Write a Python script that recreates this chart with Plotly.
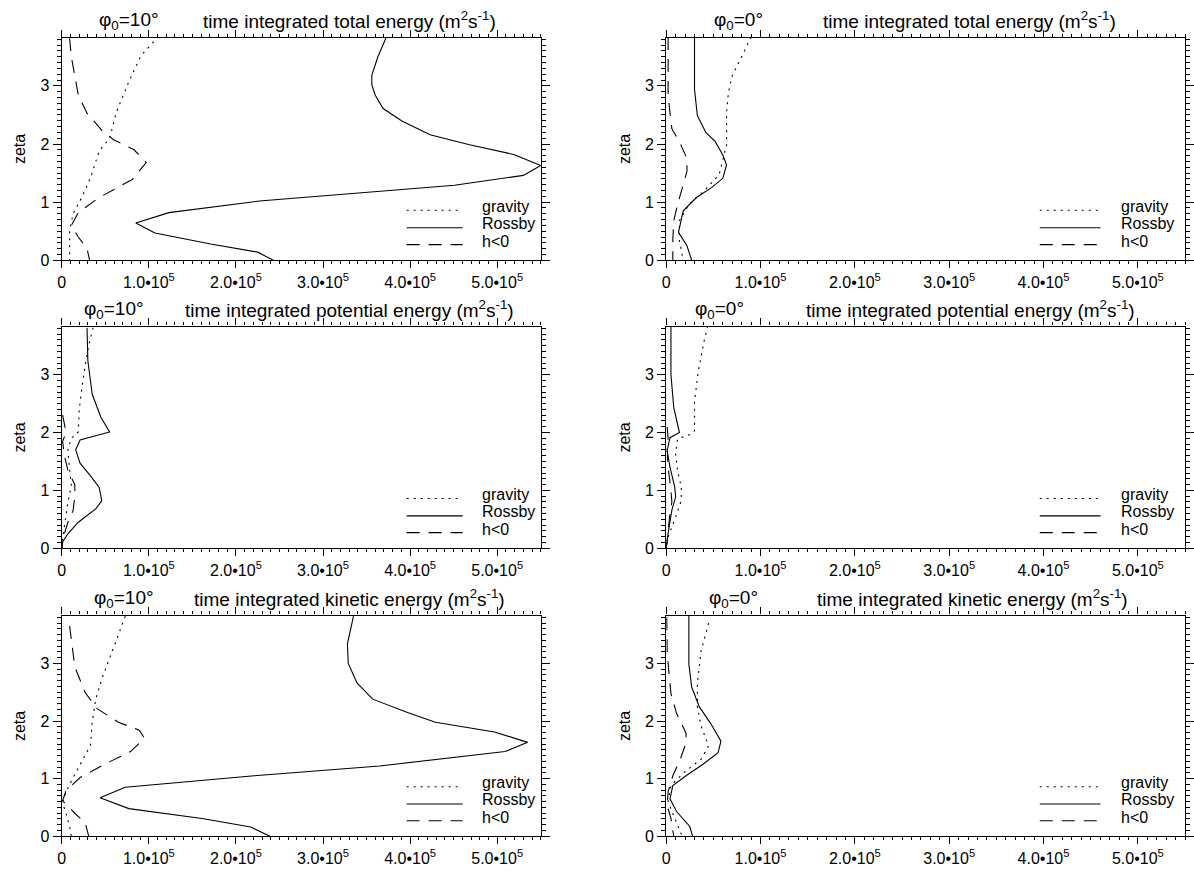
import numpy as np
import plotly.graph_objects as go

# ---------------- data (x values in units of 1e5 m^2 s^-1, zeta dimensionless) ----------------
# Top-left: total energy, phi0 = 10 deg
TL_ross_z = [3.85, 3.50, 3.18, 3.02, 2.84, 2.61, 2.39, 2.16, 1.99, 1.82, 1.63, 1.46, 1.29, 1.16, 1.02, 0.82, 0.64, 0.47, 0.28, 0.14, 0.0]
TL_ross_x = [3.73, 3.63, 3.56, 3.56, 3.60, 3.69, 3.91, 4.23, 4.67, 5.19, 5.50, 5.30, 4.51, 3.39, 2.27, 1.23, 0.85, 1.07, 1.71, 2.25, 2.43]
TL_grav_z = [3.85, 3.52, 3.07, 2.56, 2.10, 1.88, 1.42, 1.08, 0.80, 0.51, 0.0]
TL_grav_x = [1.11, 0.91, 0.77, 0.63, 0.55, 0.43, 0.33, 0.23, 0.13, 0.09, 0.09]
TL_hneg_z = [3.82, 3.50, 2.84, 2.53, 2.22, 2.07, 1.90, 1.68, 1.39, 1.08, 0.82, 0.60, 0.40, 0.20, 0.0]
TL_hneg_x = [0.09, 0.11, 0.19, 0.29, 0.47, 0.60, 0.83, 0.97, 0.81, 0.43, 0.19, 0.11, 0.19, 0.29, 0.32]

# Top-right: total energy, phi0 = 0 deg
TR_ross_z = [3.84, 2.94, 2.49, 2.20, 2.04, 1.81, 1.64, 1.41, 1.25, 1.08, 0.85, 0.48, 0.25, 0.0]
TR_ross_x = [0.30, 0.30, 0.33, 0.42, 0.52, 0.60, 0.64, 0.60, 0.48, 0.32, 0.18, 0.13, 0.22, 0.27]
TR_grav_z = [3.84, 3.51, 3.17, 2.89, 2.55, 1.98, 1.70, 1.47, 1.19, 0.96, 0.68, 0.34, 0.0]
TR_grav_x = [0.90, 0.80, 0.70, 0.66, 0.64, 0.64, 0.60, 0.56, 0.40, 0.24, 0.14, 0.14, 0.18]
TR_hneg_z = [3.84, 2.83, 2.26, 2.04, 1.75, 1.53, 1.30, 0.96, 0.68, 0.34, 0.0]
TR_hneg_x = [0.02, 0.02, 0.06, 0.14, 0.22, 0.22, 0.18, 0.12, 0.08, 0.07, 0.07]

# Middle-left: potential energy, phi0 = 10 deg
ML_ross_z = [3.81, 3.23, 2.66, 2.26, 2.01, 1.87, 1.70, 1.47, 1.25, 1.05, 0.82, 0.68, 0.45, 0.25, 0.11, 0.0]
ML_ross_x = [0.29, 0.30, 0.35, 0.45, 0.55, 0.21, 0.16, 0.21, 0.33, 0.43, 0.46, 0.39, 0.19, 0.07, 0.01, 0.0]
ML_grav_z = [3.81, 3.51, 3.17, 2.77, 2.38, 2.01, 1.90, 1.70, 1.36, 1.08, 0.79, 0.51, 0.17, 0.0]
ML_grav_x = [0.36, 0.31, 0.27, 0.23, 0.20, 0.19, 0.11, 0.07, 0.09, 0.11, 0.07, 0.04, 0.01, 0.0]
ML_hneg_z = [2.30, 2.00, 1.85, 1.60, 1.35, 1.10, 0.90, 0.65, 0.45, 0.20, 0.0]
ML_hneg_x = [0.01, 0.05, 0.01, 0.03, 0.07, 0.15, 0.15, 0.13, 0.07, 0.02, 0.0]

# Middle-right: potential energy, phi0 = 0 deg
MR_ross_z = [3.84, 3.00, 2.43, 2.00, 1.91, 1.69, 1.40, 1.06, 0.89, 0.66, 0.26, 0.0]
MR_ross_x = [0.05, 0.05, 0.08, 0.14, 0.04, 0.01, 0.04, 0.09, 0.10, 0.06, 0.02, 0.0]
MR_grav_z = [3.84, 3.57, 3.06, 2.54, 2.03, 1.97, 1.89, 1.63, 1.34, 1.06, 0.83, 0.54, 0.20, 0.0]
MR_grav_x = [0.44, 0.40, 0.34, 0.30, 0.30, 0.26, 0.12, 0.10, 0.12, 0.16, 0.16, 0.10, 0.02, 0.0]
MR_hneg_z = [2.10, 1.90, 1.70, 1.40, 1.00, 0.80, 0.60, 0.30, 0.0]
MR_hneg_x = [0.01, 0.02, 0.01, 0.02, 0.05, 0.06, 0.04, 0.02, 0.0]

# Bottom-left: kinetic energy, phi0 = 10 deg
BL_ross_z = [3.82, 3.34, 3.00, 2.66, 2.38, 2.15, 1.98, 1.81, 1.63, 1.47, 1.22, 1.05, 0.85, 0.67, 0.48, 0.31, 0.16, 0.0]
BL_ross_x = [3.35, 3.28, 3.29, 3.39, 3.57, 3.97, 4.29, 4.97, 5.35, 5.09, 3.65, 2.21, 0.73, 0.44, 0.77, 1.61, 2.17, 2.39]
BL_grav_z = [3.82, 3.17, 2.77, 2.38, 1.98, 1.58, 1.25, 0.96, 0.74, 0.57, 0.40, 0.17, 0.0]
BL_grav_x = [0.73, 0.57, 0.47, 0.39, 0.35, 0.33, 0.21, 0.11, 0.04, 0.01, 0.05, 0.09, 0.11]
BL_hneg_z = [3.65, 2.94, 2.49, 2.21, 1.98, 1.84, 1.70, 1.47, 1.25, 1.02, 0.79, 0.62, 0.40, 0.23, 0.0]
BL_hneg_x = [0.09, 0.15, 0.27, 0.41, 0.65, 0.89, 0.95, 0.79, 0.49, 0.21, 0.05, 0.01, 0.15, 0.27, 0.31]

# Bottom-right: kinetic energy, phi0 = 0 deg
BR_ross_z = [3.83, 2.99, 2.59, 2.25, 1.96, 1.65, 1.45, 1.25, 1.05, 0.88, 0.65, 0.43, 0.17, 0.0]
BR_ross_x = [0.24, 0.24, 0.27, 0.35, 0.47, 0.58, 0.55, 0.39, 0.21, 0.07, 0.04, 0.11, 0.25, 0.28]
BR_grav_z = [3.70, 3.22, 2.65, 2.25, 1.91, 1.57, 1.34, 1.11, 0.88, 0.60, 0.31, 0.0]
BR_grav_x = [0.45, 0.37, 0.33, 0.33, 0.37, 0.45, 0.37, 0.19, 0.05, 0.02, 0.09, 0.17]
BR_hneg_z = [3.80, 3.20, 2.82, 2.48, 2.13, 1.79, 1.62, 1.34, 1.05, 0.77, 0.54, 0.31, 0.0]
BR_hneg_x = [0.005, 0.01, 0.03, 0.05, 0.11, 0.21, 0.21, 0.15, 0.07, 0.02, 0.01, 0.05, 0.08]

X_UNIT = 1e5
x_tickvals = [0, 1e5, 2e5, 3e5, 4e5, 5e5]
x_ticktext = ["0", "1.0\u202210<sup>5</sup>", "2.0\u202210<sup>5</sup>", "3.0\u202210<sup>5</sup>",
              "4.0\u202210<sup>5</sup>", "5.0\u202210<sup>5</sup>"]
y_tickvals = [0, 1, 2, 3]
series_names = ["gravity", "Rossby", "h<0"]

panels = [
    dict(key="TL", phi="\u03c6<sub>0</sub>=10\u00b0", phix=0.14, tx=0.60, title="time integrated total energy (m<sup>2</sup>s<sup>-1</sup>)"),
    dict(key="TR", phi="\u03c6<sub>0</sub>=0\u00b0", phix=0.14, tx=0.585, title="time integrated total energy (m<sup>2</sup>s<sup>-1</sup>)"),
    dict(key="ML", phi="\u03c6<sub>0</sub>=10\u00b0", phix=0.11, tx=0.60, title="time integrated potential energy (m<sup>2</sup>s<sup>-1</sup>)"),
    dict(key="MR", phi="\u03c6<sub>0</sub>=0\u00b0", phix=0.103, tx=0.587, title="time integrated potential energy (m<sup>2</sup>s<sup>-1</sup>)"),
    dict(key="BL", phi="\u03c6<sub>0</sub>=10\u00b0", phix=0.13, tx=0.60, title="time integrated kinetic energy (m<sup>2</sup>s<sup>-1</sup>)"),
    dict(key="BR", phi="\u03c6<sub>0</sub>=0\u00b0", phix=0.13, tx=0.59, title="time integrated kinetic energy (m<sup>2</sup>s<sup>-1</sup>)"),
]
data = {
    "TL": [(TL_grav_x, TL_grav_z), (TL_ross_x, TL_ross_z), (TL_hneg_x, TL_hneg_z)],
    "TR": [(TR_grav_x, TR_grav_z), (TR_ross_x, TR_ross_z), (TR_hneg_x, TR_hneg_z)],
    "ML": [(ML_grav_x, ML_grav_z), (ML_ross_x, ML_ross_z), (ML_hneg_x, ML_hneg_z)],
    "MR": [(MR_grav_x, MR_grav_z), (MR_ross_x, MR_ross_z), (MR_hneg_x, MR_hneg_z)],
    "BL": [(BL_grav_x, BL_grav_z), (BL_ross_x, BL_ross_z), (BL_hneg_x, BL_hneg_z)],
    "BR": [(BR_grav_x, BR_grav_z), (BR_ross_x, BR_ross_z), (BR_hneg_x, BR_hneg_z)],
}

# ---------------- layout geometry ----------------
W, H = 1194, 873
col_px = [(58, 539), (665, 1186)]
row_px = [(38, 263), (330, 554), (622, 845)]
Y_MAX = 3.83
FONT = "Liberation Sans, Arial, Helvetica, sans-serif"
dashes = ["2px,5px", "solid", "13px,9px"]
# legend key positions (fraction of panel)
LEG_X0, LEG_X1, LEG_TX = 0.72, 0.837, 0.873
LEG_LINE_Y = [0.86, 0.56, 0.27]   # in zeta units
LEG_TEXT_Y = [0.93, 0.63, 0.33]

fig = go.Figure()
layout = dict(
    width=W, height=H, margin=dict(l=0, r=0, t=0, b=0),
    paper_bgcolor="white", plot_bgcolor="white",
    font=dict(family=FONT, size=16, color="black"),
    showlegend=False,
)
annotations = []
shapes = []

for i, p in enumerate(panels):
    r, c = divmod(i, 2)
    n = i + 1
    xa = "xaxis" if n == 1 else f"xaxis{n}"
    ya = "yaxis" if n == 1 else f"yaxis{n}"
    xr = "x" if n == 1 else f"x{n}"
    yr = "y" if n == 1 else f"y{n}"
    x0, x1 = col_px[c]
    y0, y1 = row_px[r]
    layout[xa] = dict(
        domain=[x0 / W, x1 / W], anchor=yr, range=[0, 5.5e5],
        tickmode="array", tickvals=x_tickvals, ticktext=x_ticktext,
        ticks="outside", ticklen=7, tickwidth=1, tickcolor="black",
        showline=True, linecolor="black", linewidth=1.2, mirror="ticks",
        showgrid=False, zeroline=False,
        minor=dict(dtick=1e4, tick0=0, ticks="outside", ticklen=3, tickcolor="black", showgrid=False),
        tickfont=dict(size=16),
    )
    layout[ya] = dict(
        domain=[1 - y1 / H, 1 - y0 / H], anchor=xr, range=[0, Y_MAX],
        tickmode="array", tickvals=y_tickvals,
        ticks="outside", ticklen=8, tickwidth=1, tickcolor="black",
        showline=True, linecolor="black", linewidth=1.2, mirror="ticks",
        showgrid=False, zeroline=False,
        minor=dict(dtick=0.1, tick0=0, ticks="outside", ticklen=4, tickcolor="black", showgrid=False),
        title=dict(text="zeta", font=dict(size=16), standoff=10),
        tickfont=dict(size=16),
    )
    for (xs, zs), name, dsh in zip(data[p["key"]], series_names, dashes):
        fig.add_trace(go.Scatter(
            x=np.array(xs) * X_UNIT, y=zs, mode="lines", name=name,
            line=dict(color="black", width=1.1, dash=dsh),
            xaxis=xr, yaxis=yr,
        ))
    # legend key drawn inside the lower right of each panel
    for name, dsh, ly, ty in zip(series_names, dashes, LEG_LINE_Y, LEG_TEXT_Y):
        shapes.append(dict(
            type="line", xref=f"{xr} domain", yref=f"{yr} domain",
            x0=LEG_X0, x1=LEG_X1, y0=ly / Y_MAX, y1=ly / Y_MAX,
            line=dict(color="black", width=1.1, dash=dsh),
        ))
        annotations.append(dict(
            text=name.replace("<", "&lt;"), xref=f"{xr} domain", yref=f"{yr} domain",
            x=LEG_TX, y=ty / Y_MAX, xanchor="left", yanchor="middle",
            showarrow=False, font=dict(size=16),
        ))
    annotations.append(dict(
        text=p["phi"], xref=f"{xr} domain", yref=f"{yr} domain",
        x=p["phix"], y=1.0, xanchor="center", yanchor="bottom", yshift=3,
        showarrow=False, font=dict(size=19),
    ))
    annotations.append(dict(
        text=p["title"], xref=f"{xr} domain", yref=f"{yr} domain",
        x=p["tx"], y=1.0, xanchor="center", yanchor="bottom", yshift=4,
        showarrow=False, font=dict(size=19),
    ))

layout["annotations"] = annotations
layout["shapes"] = shapes
fig.update_layout(**layout)
fig.write_html("out.html")
